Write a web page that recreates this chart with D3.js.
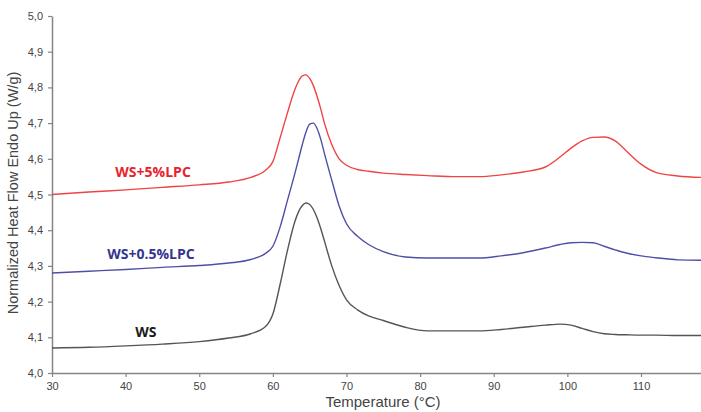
<!DOCTYPE html>
<html>
<head>
<meta charset="utf-8">
<script src="https://cdn.jsdelivr.net/npm/d3@7"></script>
<style>
  body { margin: 0; background: #fff; }
  svg { display: block; }
</style>
</head>
<body>
<svg id="chart"></svg>
<script>
// DSC thermograms, temperature grid shared by the three curves
const temps = [30, 35, 40, 45, 50, 54, 57, 59, 60, 61, 62, 63, 63.5, 64, 64.5, 65, 65.5, 66, 66.5, 67, 68, 69, 70,
  71.5, 73, 75, 78, 81, 85, 88, 91, 94, 97, 99, 100.5, 102, 103.5, 105, 106.5, 108, 110, 112, 115, 118.15]

const ws5 = [4.500, 4.507, 4.513, 4.520, 4.527, 4.535, 4.548, 4.568, 4.592, 4.660, 4.730, 4.795, 4.818, 4.832, 4.835,
  4.825, 4.805, 4.775, 4.740, 4.700, 4.640, 4.600, 4.582, 4.570, 4.565, 4.560, 4.556, 4.553, 4.550, 4.550, 4.555,
  4.563, 4.577, 4.605, 4.630, 4.650, 4.660, 4.661, 4.650, 4.622, 4.585, 4.562, 4.552, 4.548]

const ws05 = [4.280, 4.285, 4.290, 4.296, 4.301, 4.308, 4.318, 4.335, 4.355, 4.410, 4.485, 4.560, 4.600, 4.640, 4.675,
  4.697, 4.700, 4.685, 4.655, 4.615, 4.540, 4.468, 4.418, 4.383, 4.360, 4.340, 4.325, 4.322, 4.322, 4.322, 4.328,
  4.337, 4.350, 4.360, 4.365, 4.366, 4.365, 4.355, 4.345, 4.336, 4.328, 4.323, 4.317, 4.316]

const ws = [4.070, 4.072, 4.076, 4.081, 4.088, 4.098, 4.110, 4.130, 4.165, 4.250, 4.345, 4.425, 4.452, 4.469, 4.476,
  4.472, 4.458, 4.435, 4.405, 4.370, 4.300, 4.245, 4.205, 4.177, 4.160, 4.147, 4.128, 4.118, 4.118, 4.118, 4.122,
  4.128, 4.134, 4.137, 4.134, 4.125, 4.116, 4.110, 4.108, 4.107, 4.106, 4.106, 4.105, 4.105]

const seriesNames = ['WS+5%LPC', 'WS+0.5%LPC', 'WS']
const lineColors = ['#ef4444', '#4f4fa6', '#555555']
const labelColors = ['#e8232d', '#35358f', '#1a1a1a']
const labelAt = [[38.6, 4.548], [37.5, 4.319], [41.3, 4.101]]   // label position in data units

const xTicks = [30, 40, 50, 60, 70, 80, 90, 100, 110]
const yTicks = [4.0, 4.1, 4.2, 4.3, 4.4, 4.5, 4.6, 4.7, 4.8, 4.9, 5.0]

let width = 701
let height = 412
let margin = {left: 52, right: 0, top: 16, bottom: 39}

let svg = d3.select('#chart').attr('width', width).attr('height', height)

let x = d3.scaleLinear().domain([30, 118.15]).range([margin.left, width - margin.right])
let y = d3.scaleLinear().domain([4.0, 5.0]).range([height - margin.bottom, margin.top])

let axisColor = '#858585'
let fmt = d => d3.format('.1f')(d).replace('.', ',')

// x axis
let gx = svg.append('g')
  .attr('transform', `translate(0,${height - margin.bottom})`)
  .call(d3.axisBottom(x).tickValues(xTicks).tickSize(4).tickSizeOuter(0).tickPadding(5))
gx.select('.domain').attr('stroke', axisColor).attr('stroke-width', 1.5)
gx.selectAll('.tick line').attr('stroke', axisColor).attr('stroke-width', 1.2)
gx.selectAll('.tick text').attr('fill', '#444').style('font', '11px "Liberation Sans", Arial, sans-serif')

// y axis
let gy = svg.append('g')
  .attr('transform', `translate(${margin.left},0)`)
  .call(d3.axisLeft(y).tickValues(yTicks).tickFormat(fmt).tickSize(4).tickSizeOuter(0).tickPadding(5))
gy.select('.domain').attr('stroke', axisColor).attr('stroke-width', 1.5)
gy.selectAll('.tick line').attr('stroke', axisColor).attr('stroke-width', 1.2)
gy.selectAll('.tick text').attr('fill', '#444').style('font', '11px "Liberation Sans", Arial, sans-serif')

// axis titles
svg.append('text')
  .attr('x', 383).attr('y', 407)
  .attr('text-anchor', 'middle')
  .attr('fill', '#444')
  .style('font', '15px "Liberation Sans", Arial, sans-serif')
  .text('Temperature (°C)')

svg.append('text')
  .attr('transform', 'translate(18,193) rotate(-90)')
  .attr('text-anchor', 'middle')
  .attr('fill', '#444')
  .style('font', '14.5px "Liberation Sans", Arial, sans-serif')
  .text('Normalized Heat Flow Endo Up (W/g)')

// curves
let line = d3.line()
  .x((d, i) => x(temps[i]))
  .y(d => y(d))
  .curve(d3.curveMonotoneX)

let allSeries = [ws5, ws05, ws]

svg.append('g')
  .selectAll('path')
  .data(allSeries)
  .enter().append('path')
  .attr('d', d => line(d))
  .attr('fill', 'none')
  .attr('stroke', (d, i) => lineColors[i])
  .attr('stroke-width', 1.4)

// series labels
svg.append('g')
  .selectAll('text')
  .data(seriesNames)
  .enter().append('text')
  .attr('x', (d, i) => x(labelAt[i][0]))
  .attr('y', (d, i) => y(labelAt[i][1]))
  .attr('fill', (d, i) => labelColors[i])
  .style('font', 'bold 14px "Open Sans", "Noto Sans", sans-serif')
  .text(d => d)
</script>
</body>
</html>
